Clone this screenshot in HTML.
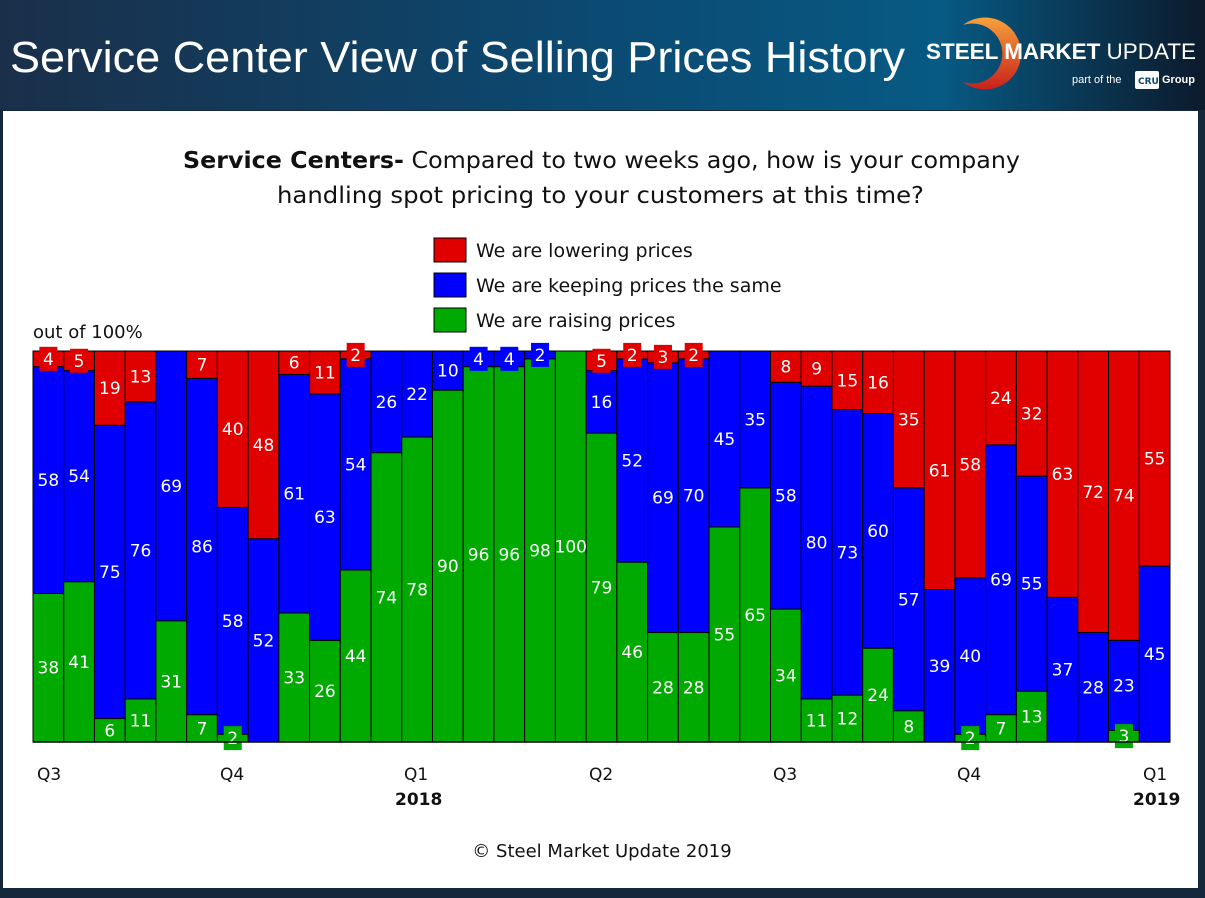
<!DOCTYPE html>
<html><head><meta charset="utf-8"><style>
body{margin:0;width:1205px;height:894px;overflow:hidden;background:#15273a;font-family:"DejaVu Sans","Liberation Sans",sans-serif}
</style></head><body>
<svg width="1205" height="894" xmlns="http://www.w3.org/2000/svg" font-family="DejaVu Sans, Liberation Sans, sans-serif">
<defs>
<linearGradient id="hg" x1="0" x2="1" y1="0" y2="0"><stop offset="0" stop-color="#1a2f4a"/><stop offset="0.5" stop-color="#0b4a72"/><stop offset="0.78" stop-color="#075a84"/><stop offset="1" stop-color="#0c1a2c"/></linearGradient>
<linearGradient id="og" x1="0" x2="0" y1="0" y2="1"><stop offset="0" stop-color="#f7a23a"/><stop offset="1" stop-color="#c8201c"/></linearGradient>
</defs>
<rect width="1205" height="894" fill="#15273a"/>
<rect width="1205" height="110" fill="url(#hg)"/>
<text x="10" y="72" fill="#fff" font-size="44" font-family="Liberation Sans, sans-serif" textLength="895" lengthAdjust="spacingAndGlyphs">Service Center View of Selling Prices History</text>
<path d="M963,25 A36,36 0 1 1 963,82 A30,30 0 1 0 963,25Z" fill="url(#og)"/>
<text x="926" y="59" fill="#fff" font-size="22" font-weight="bold" font-family="Liberation Sans, sans-serif" textLength="270" lengthAdjust="spacingAndGlyphs">STEEL MARKET <tspan font-weight="normal">UPDATE</tspan></text>
<text x="1072" y="83" fill="#fff" font-size="11" font-family="Liberation Sans, sans-serif">part of the</text>
<rect x="1135" y="71" width="24" height="18" rx="2" fill="#fff"/>
<text x="1138" y="84" fill="#0b4a72" font-size="9" font-weight="bold">CRU</text>
<text x="1162" y="83" fill="#fff" font-size="11" font-weight="bold" font-family="Liberation Sans, sans-serif">Group</text>
<rect x="3" y="111" width="1195" height="777" fill="#fff"/>
<text x="183" y="168" font-size="23" fill="#111" textLength="837" lengthAdjust="spacingAndGlyphs"><tspan font-weight="bold">Service Centers-</tspan> Compared to two weeks ago, how is your company</text>
<text x="277" y="203" font-size="23" fill="#111" textLength="647" lengthAdjust="spacingAndGlyphs">handling spot pricing to your customers at this time?</text>
<rect x="434" y="238" width="32" height="24" fill="#e00000" stroke="#000"/>
<rect x="434" y="273" width="32" height="24" fill="#0000ff" stroke="#000"/>
<rect x="434" y="308" width="32" height="24" fill="#00aa00" stroke="#000"/>
<g font-size="19" fill="#111"><text x="476" y="257">We are lowering prices</text><text x="476" y="292">We are keeping prices the same</text><text x="476" y="327">We are raising prices</text></g>
<text x="33" y="338" font-size="18" fill="#111">out of 100%</text>
<g id="bars" stroke="#000" stroke-width="1"></g>
<g id="labs" font-size="17" fill="#fff" text-anchor="middle"></g>
<line x1="33" y1="742" x2="1170" y2="742" stroke="#000" stroke-width="1.5"/>
<g font-size="17" fill="#111">
<text x="37" y="780">Q3</text><text x="220" y="780">Q4</text><text x="404" y="780">Q1</text><text x="589" y="780">Q2</text><text x="773" y="780">Q3</text><text x="957" y="780">Q4</text><text x="1143" y="780">Q1</text>
<text x="395" y="805" font-weight="bold">2018</text><text x="1133" y="805" font-weight="bold">2019</text>
</g>
<text x="602" y="857" text-anchor="middle" font-size="18" fill="#111">© Steel Market Update 2019</text>
</svg>
<script>
var d=[[38,58,4],[41,54,5],[6,75,19],[11,76,13],[31,69,0],[7,86,7],[2,58,40],[0,52,48],[33,61,6],[26,63,11],[44,54,2],[74,26,0],[78,22,0],[90,10,0],[96,4,0],[96,4,0],[98,2,0],[100,0,0],[79,16,5],[46,52,2],[28,69,3],[28,70,2],[55,45,0],[65,35,0],[34,58,8],[11,80,9],[12,73,15],[24,60,16],[8,57,35],[0,39,61],[2,40,58],[7,69,24],[13,55,32],[0,37,63],[0,28,72],[3,23,74],[0,45,55]];
var ns="http://www.w3.org/2000/svg",B=document.getElementById('bars'),L=document.getElementById('labs');
var cols=['#00aa00','#0000ff','#e00000'],w=1137/37,top0=351,bot=742,u=3.91;
function el(t,a,p){var e=document.createElementNS(ns,t);for(var k in a)e.setAttribute(k,a[k]);p.appendChild(e);return e;}
d.forEach(function(v,i){var x=33+i*w,y=bot,labs=[];
for(var j=0;j<3;j++){if(!v[j])continue;var h=v[j]*u;y-=h;el('rect',{x:x,y:y,width:w,height:h,fill:cols[j]},B);labs.push([j,v[j],y+h/2]);}
labs.forEach(function(l){var cx=x+w/2;if(l[1]<=5){el('rect',{x:cx-9,y:l[2]-12,width:18,height:24,fill:cols[l[0]]},L);}
var t=el('text',{x:cx,y:l[2]+6},L);t.textContent=l[1];});});
</script>
</body></html>
